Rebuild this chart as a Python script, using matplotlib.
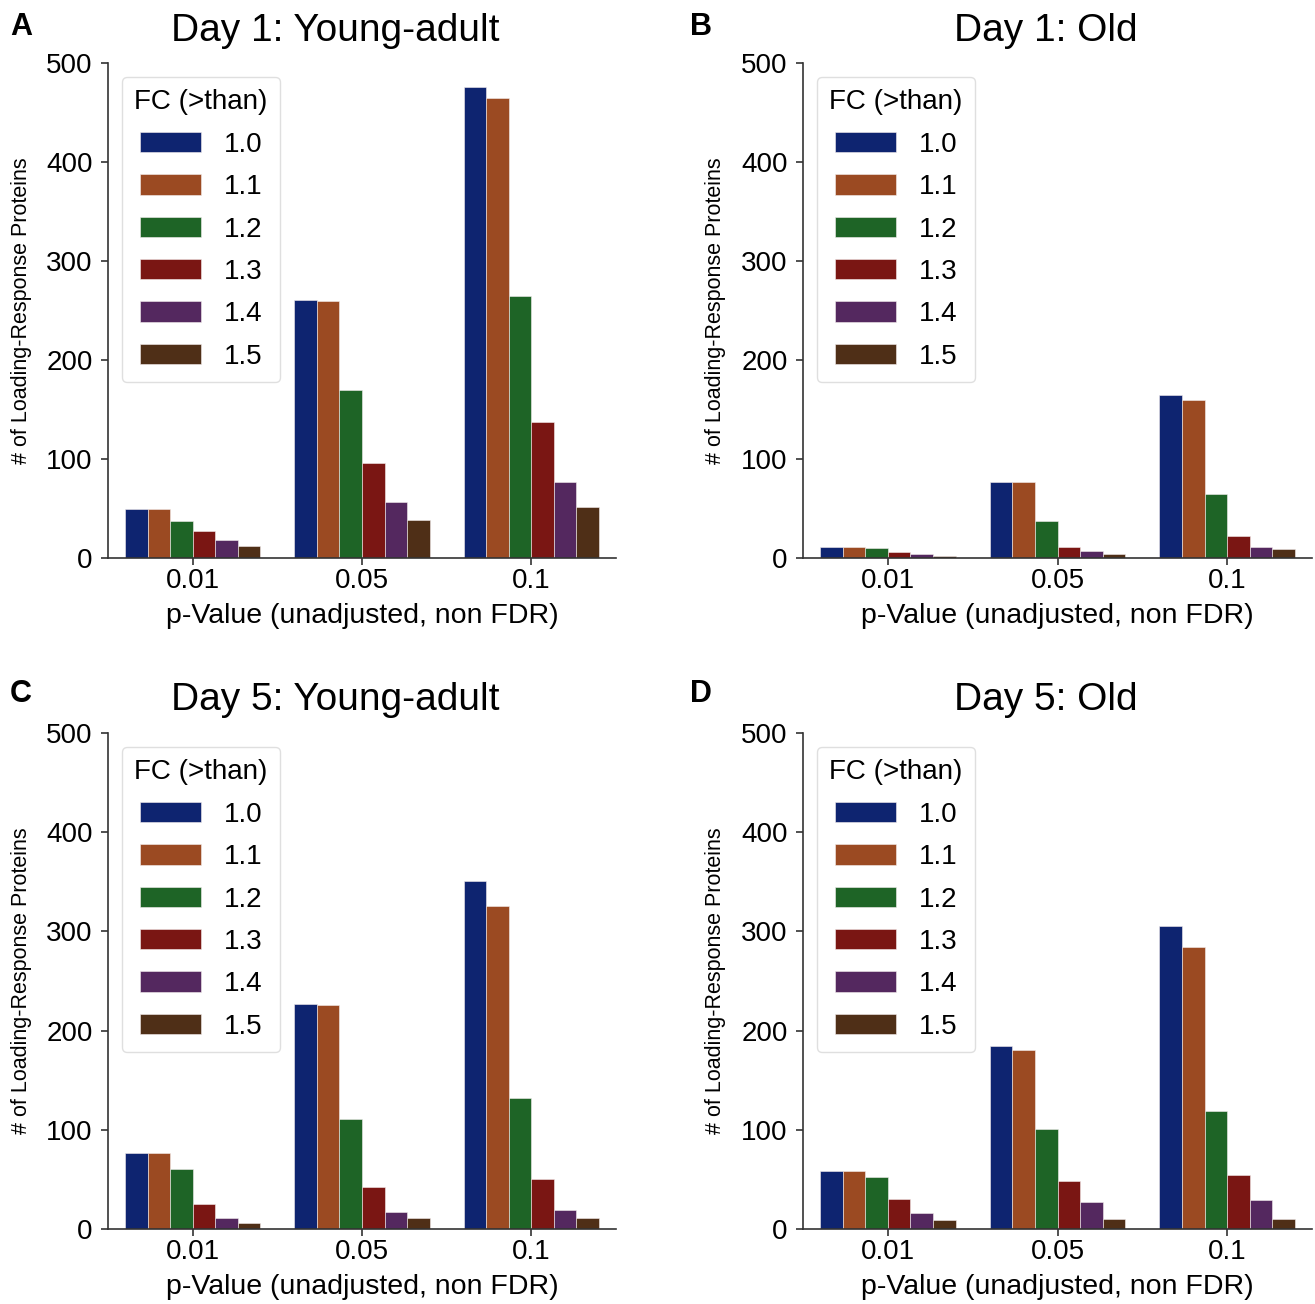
import numpy as np
import matplotlib
matplotlib.use("Agg")
import matplotlib.pyplot as plt
from matplotlib.patches import Patch

plt.rcParams['font.family'] = ['Liberation Sans', 'DejaVu Sans']

# data: rows = FC threshold, columns = p-value cutoff
p_labels = ['0.01', '0.05', '0.1']
fc_labels = ['1.0', '1.1', '1.2', '1.3', '1.4', '1.5']
colors = ['#0e2470', '#9b4a22', '#1e6426', '#7a1613', '#54285f', '#4f2f17']

day1_young = [[50, 261, 476],
              [50, 260, 465],
              [37, 170, 265],
              [27, 96, 137],
              [18, 57, 77],
              [12, 38, 52]]
day1_old = [[11, 77, 165],
            [11, 77, 160],
            [10, 37, 65],
            [6, 11, 22],
            [4, 7, 11],
            [2, 4, 9]]
day5_young = [[77, 227, 351],
              [77, 226, 326],
              [60, 111, 132],
              [25, 42, 50],
              [11, 17, 19],
              [6, 11, 11]]
day5_old = [[58, 184, 305],
            [58, 180, 284],
            [52, 101, 119],
            [30, 48, 54],
            [16, 27, 29],
            [9, 10, 10]]

W, H = 1315, 1304
fig = plt.figure(figsize=(W / 100, H / 100), dpi=100)


def panel(rect, data, title, title_x, title_y, letter, letter_x, letter_y):
    ax = fig.add_axes(rect)
    x = np.arange(len(p_labels))
    bw = 0.8 / len(fc_labels)
    for i, vals in enumerate(data):
        ax.bar(x - 0.4 + bw * (i + 0.5), vals, width=bw, color=colors[i],
               edgecolor='#f4eeee', linewidth=0.4)
    ax.set_xlim(-0.5, 2.5)
    ax.set_ylim(0, 500)
    ax.set_yticks([0, 100, 200, 300, 400, 500])
    ax.set_xticks(x)
    ax.set_xticklabels(p_labels)
    ax.tick_params(labelsize=20, length=5, width=1.2, color='#333333')
    ax.tick_params(axis='x', pad=2)
    ax.tick_params(axis='y', pad=6)
    for s in ['top', 'right']:
        ax.spines[s].set_visible(False)
    for s in ['left', 'bottom']:
        ax.spines[s].set_linewidth(1.2)
        ax.spines[s].set_color('#333333')
    ax.set_xlabel('p-Value (unadjusted, non FDR)', fontsize=20.5, va='center')
    ax.xaxis.set_label_coords(0.5, -0.117)
    ax.set_ylabel('# of Loading-Response Proteins', fontsize=15.5, va='center')
    ax.yaxis.set_label_coords(-0.171, 0.5)
    handles = [Patch(facecolor=c, edgecolor='#f4eeee', linewidth=0.4) for c in colors]
    leg = ax.legend(handles, fc_labels, title='FC (>than)', loc='upper left',
                    fontsize=20, title_fontsize=20,
                    handlelength=2.2, handleheight=0.75, labelspacing=0.59,
                    handletextpad=0.8, borderpad=0.45, frameon=True)
    leg.get_frame().set_edgecolor('#d8d8d8')
    fig.text(title_x / W, 1 - title_y / H, title, fontsize=28, ha='center', va='center')
    fig.text(letter_x / W, 1 - letter_y / H, letter, fontsize=22, fontweight='bold',
             ha='left', va='center')
    return ax


top_y = [1 - 558 / H, (558 - 63) / H]
bot_y = [1 - 1229 / H, (1229 - 733) / H]
left_a = [108 / W, 508 / W]
left_b = [803 / W, 509 / W]

panel([left_a[0], top_y[0], left_a[1], top_y[1]], day1_young,
      'Day 1: Young-adult', 335, 31, 'A', 10, 27)
panel([left_b[0], top_y[0], left_b[1], top_y[1]], day1_old,
      'Day 1: Old', 1046, 31, 'B', 690, 27)
panel([left_a[0], bot_y[0], left_a[1], bot_y[1]], day5_young,
      'Day 5: Young-adult', 335, 700, 'C', 10, 694)
panel([left_b[0], bot_y[0], left_b[1], bot_y[1]], day5_old,
      'Day 5: Old', 1046, 700, 'D', 690, 694)

fig.savefig('out.png', dpi=100)
